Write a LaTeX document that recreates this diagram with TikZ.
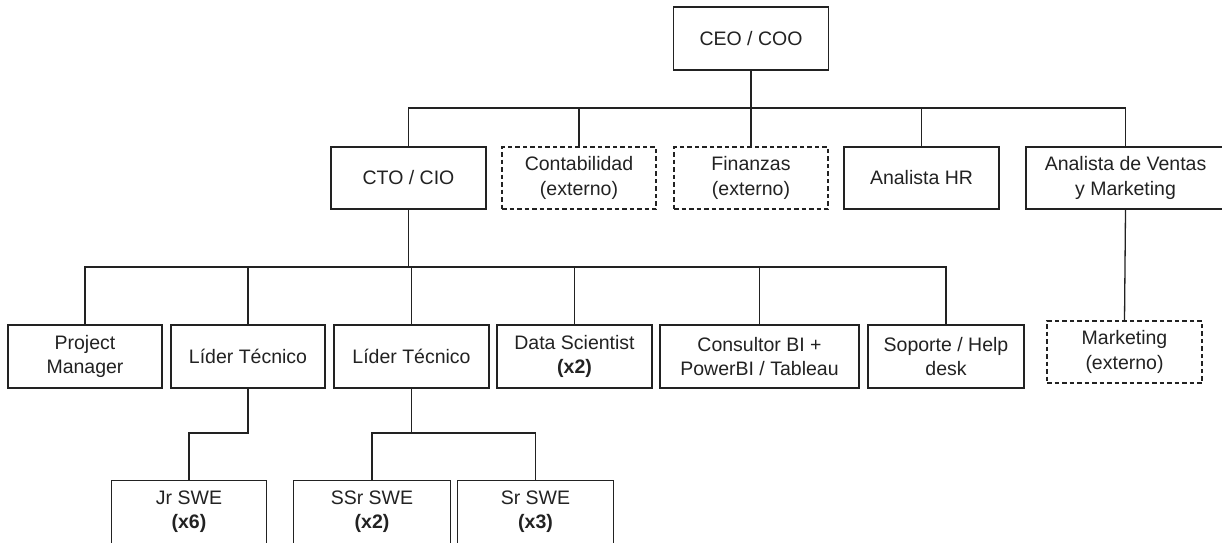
\documentclass[tikz,border=0pt]{standalone}
\usepackage{fontspec}
\setmainfont{Liberation Sans}
\definecolor{ink}{HTML}{222222}
\begin{document}
\begin{tikzpicture}[x=1pt,y=-1pt,
  box/.style={draw=ink,line width=1.3pt,fill=white,inner sep=0pt,align=center,
    minimum width=155pt,minimum height=62pt,text=ink,
    font=\fontsize{19.5}{24.3}\selectfont},
  ext/.style={box,dash pattern=on 4.5pt off 3pt},
  cut/.style={box,draw=none},
  link/.style={draw=ink,line width=1.3pt}]
\useasboundingbox (0,0) rectangle (1222,542);
\clip (0,0) rectangle (1222,542);
\fill[white] (0,0) rectangle (1222,542);
% level 0
\node[box,minimum height=63pt] (ceo) at (751,38.5) {CEO / COO};
% level 1
\node[box] (cto) at (408.5,178) {CTO / CIO};
\node[ext,minimum width=154pt] (cont) at (579,178) {Contabilidad\\(externo)};
\node[ext,minimum width=154pt] (fin) at (751,178) {Finanzas\\(externo)};
\node[box] (hr) at (921.5,178) {Analista HR};
\node[box,minimum width=199pt] (ven) at (1125.5,178) {Analista de Ventas\\y Marketing};
% level 2
\node[box,minimum width=154pt,minimum height=63pt] (pm) at (85,356.5) {Project\\Manager};
\node[box,minimum width=154pt,minimum height=63pt] (l1) at (248,356.5) {Líder Técnico};
\node[box,minimum height=63pt] (l2) at (411.5,356.5) {Líder Técnico};
\node[box,minimum height=63pt] (ds) at (574.5,356.5) {Data Scientist\\\textbf{(x2)}};
\node[box,minimum width=199pt,minimum height=63pt] (bi) at (759.5,356.5) {Consultor BI +\\PowerBI / Tableau};
\node[box,minimum width=156pt,minimum height=63pt] (sop) at (946,356.5) {Soporte / Help\\desk};
\node[ext] (mkt) at (1124.5,352) {Marketing\\(externo)};
% level 3 (cut off by the lower edge)
\node[cut,minimum width=154pt] (jr) at (189,512) {Jr SWE\\\textbf{(x6)}};
\node[cut,minimum width=156pt] (ssr) at (372,512) {SSr SWE\\\textbf{(x2)}};
\node[cut] (sr) at (535.5,512) {Sr SWE\\\textbf{(x3)}};
\foreach \c in {jr,ssr,sr}
  \draw[link] (\c.north west) rectangle ([yshift=-10pt]\c.south east);
% rails
\coordinate (r1) at (0,108);
\coordinate (r2) at (0,267);
\coordinate (r3) at (0,433);
\foreach \c in {cto,cont,fin,hr,ven}
  \draw[link] (ceo.south) |- (r1 -| \c.north) -- (\c.north);
\foreach \c in {pm,l1,l2,ds,bi,sop}
  \draw[link] (cto.south) |- (r2 -| \c.north) -- (\c.north);
\draw[link] (l1.south) |- (r3 -| jr.north) -- (jr.north);
\foreach \c in {ssr,sr}
  \draw[link] (l2.south) |- (r3 -| \c.north) -- (\c.north);
\draw[link] (ven.south) -- (mkt.north);
\end{tikzpicture}
\end{document}
